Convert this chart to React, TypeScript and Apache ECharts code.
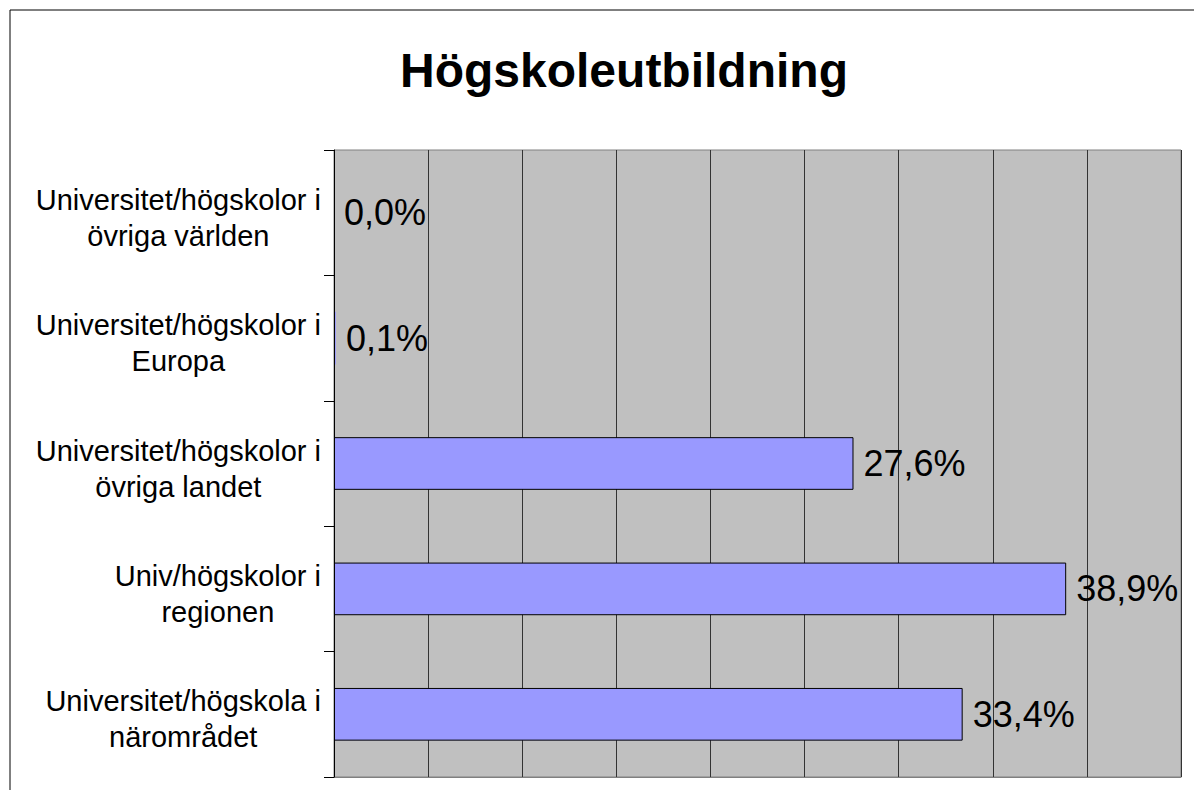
import React, { useEffect, useRef } from "react";
import * as echarts from "echarts";

const titleText = "Högskoleutbildning";
const categories = [
  "Universitet/högskola i\nnärområdet",
  "Univ/högskolor i\nregionen",
  "Universitet/högskolor i\növriga landet",
  "Universitet/högskolor i\nEuropa",
  "Universitet/högskolor i\növriga världen",
];
const values = [33.4, 38.9, 27.6, 0.1, 0.0];
const axisMin = 0;
const axisMax = 45;
const axisInterval = 5;

export default function App() {
  const ref = useRef<HTMLDivElement>(null);
  useEffect(() => {
    if (!ref.current) return;
    const chart = echarts.init(ref.current, undefined, { renderer: "svg" });
    const font = "'Liberation Sans', Arial, sans-serif";
    chart.setOption({
      animation: false,
      backgroundColor: "#ffffff",
      textStyle: { fontFamily: font },
      graphic: [
        {
          type: "rect",
          shape: { x: 10, y: 10, width: 1300, height: 900 },
          style: { fill: "none", stroke: "#000", lineWidth: 1 },
          z: 100,
          silent: true,
        },
        {
          type: "text",
          x: 624,
          y: 70,
          style: {
            text: titleText,
            fontFamily: font,
            fontSize: 48,
            fontWeight: "bold",
            fill: "#000",
            align: "center",
            verticalAlign: "middle",
          },
        },
      ],
      grid: {
        left: 334,
        top: 150,
        right: 13,
        bottom: 13,
        show: true,
        backgroundColor: "#c0c0c0",
        borderColor: "#808080",
        borderWidth: 1,
        containLabel: false,
      },
      xAxis: {
        type: "value",
        min: axisMin,
        max: axisMax,
        interval: axisInterval,
        axisLabel: { show: false },
        axisTick: { show: false },
        axisLine: { show: true, lineStyle: { color: "#808080", width: 1 } },
        splitLine: { show: true, lineStyle: { color: "#333", width: 1 } },
      },
      yAxis: {
        type: "category",
        data: categories,
        z: 5,
        axisLine: { show: true, lineStyle: { color: "#000", width: 1 } },
        axisTick: { show: true, length: 10, lineStyle: { color: "#000", width: 1 } },
        splitLine: { show: false },
        axisLabel: {
          fontFamily: font,
          fontSize: 29,
          lineHeight: 36,
          color: "#000",
          align: "right",
          margin: 13,
          padding: [10, 0, 0, 0],
          formatter: (v: string) =>
            v
              .split("\n")
              .map((l) => "{c|" + l + "}")
              .join("\n"),
          rich: {
            c: {
              align: "center",
              fontFamily: font,
              fontSize: 29,
              lineHeight: 36,
              color: "#000",
            },
          },
        },
      },
      series: [
        {
          type: "bar",
          data: values.map((v) =>
            v < 0.5 ? { value: v, itemStyle: { borderWidth: 0 } } : v
          ),
          barWidth: "42%",
          itemStyle: { color: "#9999ff", borderColor: "#000", borderWidth: 1 },
          label: {
            show: true,
            position: "right",
            distance: 10,
            fontFamily: font,
            fontSize: 36,
            color: "#000",
            formatter: (p: any) => Number(p.value).toFixed(1).replace(".", ",") + "%",
          },
        },
      ],
    });
    return () => chart.dispose();
  }, []);
  return (
    <div
      ref={ref}
      style={{ position: "absolute", left: 0, top: 0, width: 1194, height: 790 }}
    />
  );
}
